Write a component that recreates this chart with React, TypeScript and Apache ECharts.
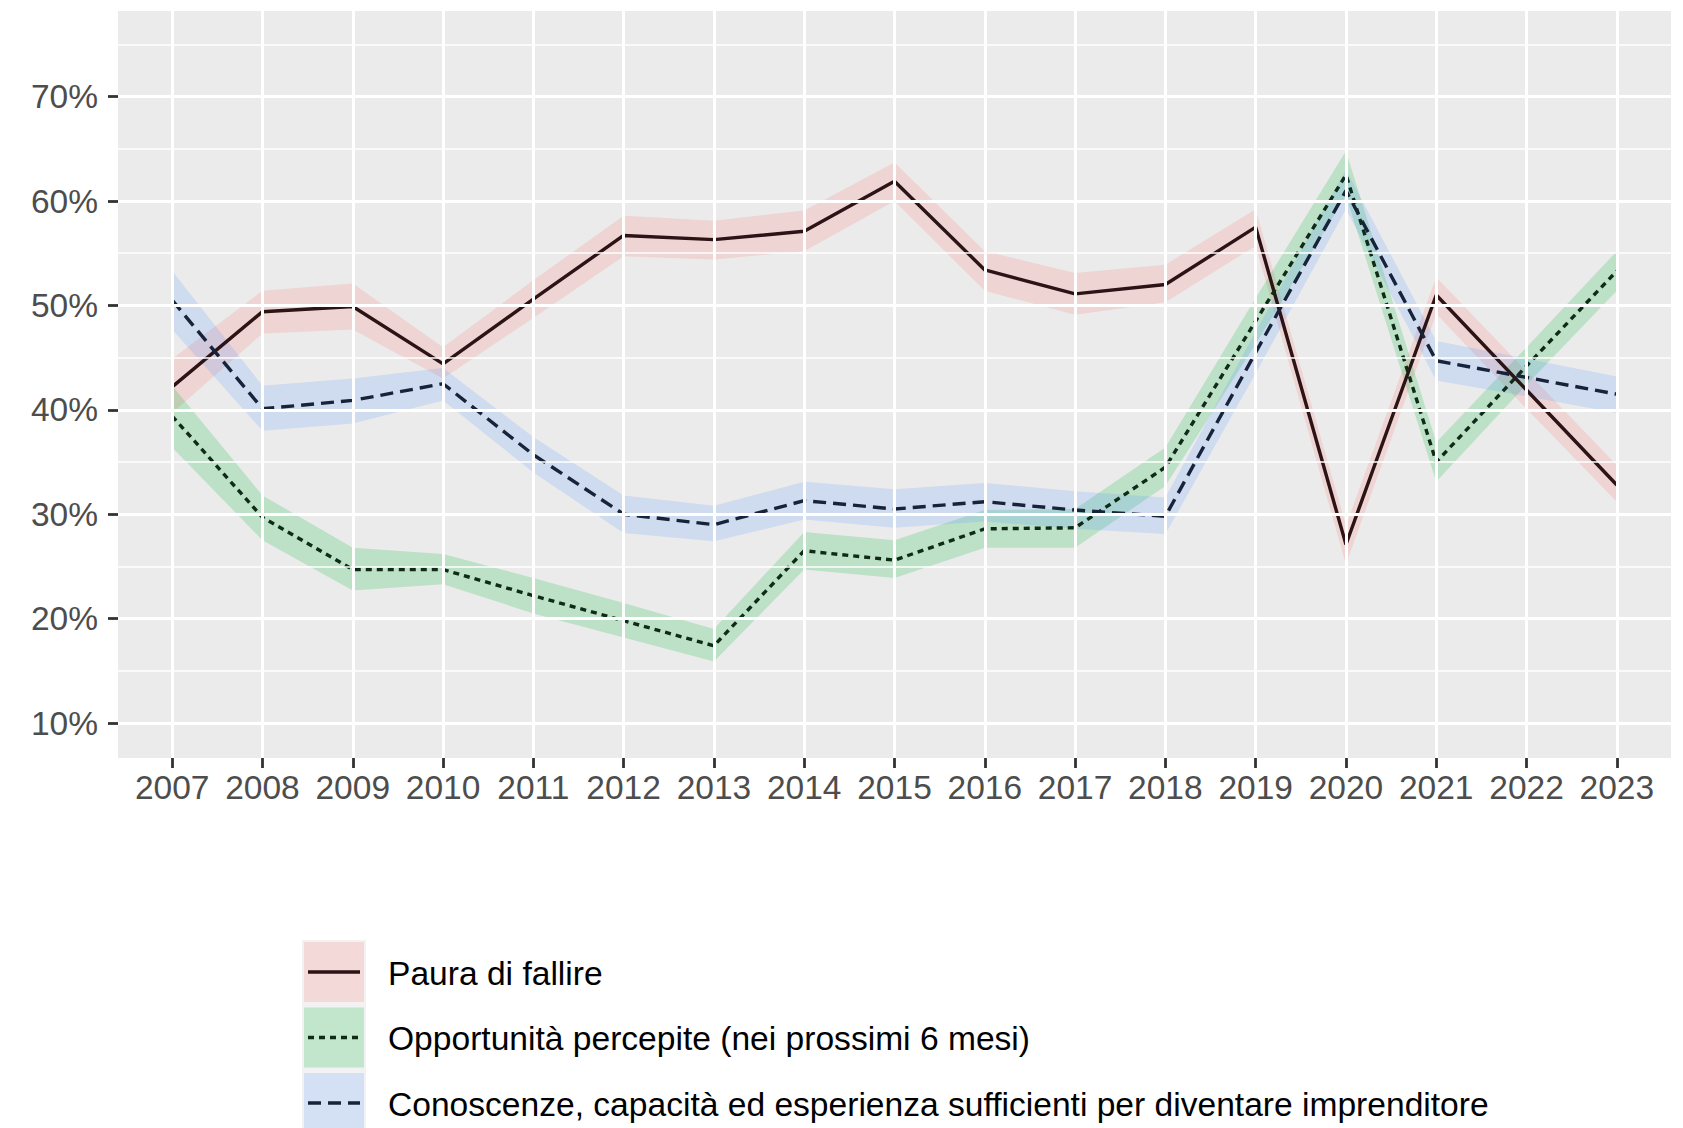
import * as echarts from 'echarts';
import { useEffect, useRef } from 'react';

// values (percent)
const years = [2007, 2008, 2009, 2010, 2011, 2012, 2013, 2014, 2015, 2016, 2017, 2018, 2019, 2020, 2021, 2022, 2023];

const seriesNames = [
  'Paura di fallire',
  'Opportunità percepite (nei prossimi 6 mesi)',
  'Conoscenze, capacità ed esperienza sufficienti per diventare imprenditore'
];

const paura = [42.2, 49.4, 49.9, 44.4, 50.6, 56.7, 56.3, 57.1, 61.9, 53.4, 51.1, 52.0, 57.5, 27.1, 51.0, 41.9, 32.8];
const pauraLow = [39.7, 47.3, 47.7, 43.0, 48.8, 54.7, 54.4, 55.2, 60.0, 51.4, 49.1, 50.3, 55.7, 25.2, 49.2, 40.1, 31.2];
const pauraHigh = [44.9, 51.4, 52.1, 46.0, 52.4, 58.6, 58.1, 59.1, 63.7, 55.2, 53.1, 53.9, 59.2, 28.9, 52.7, 43.7, 34.7];

const opport = [39.4, 29.7, 24.7, 24.7, 22.2, 19.8, 17.4, 26.5, 25.6, 28.6, 28.7, 34.5, 48.5, 62.5, 35.0, 44.2, 53.3];
const opportLow = [36.4, 27.5, 22.7, 23.3, 20.5, 18.2, 15.9, 24.7, 23.9, 26.8, 26.8, 32.7, 46.3, 60.5, 33.1, 42.4, 51.4];
const opportHigh = [42.3, 31.8, 26.8, 26.2, 23.9, 21.5, 19.0, 28.3, 27.5, 30.4, 30.5, 36.4, 50.7, 64.8, 36.9, 46.0, 55.2];

const conosc = [50.5, 40.1, 40.9, 42.5, 35.7, 30.0, 29.0, 31.3, 30.5, 31.2, 30.4, 29.8, 45.5, 61.0, 44.7, 43.1, 41.5];
const conoscLow = [47.7, 38.0, 38.7, 40.9, 34.0, 28.2, 27.4, 29.5, 28.7, 29.3, 28.6, 28.1, 43.5, 59.2, 42.8, 41.3, 39.7];
const conoscHigh = [53.3, 42.3, 43.0, 44.0, 37.4, 31.8, 30.8, 33.1, 32.4, 33.0, 32.2, 31.6, 47.5, 63.0, 46.6, 44.9, 43.2];

const yTicks = [10, 20, 30, 40, 50, 60, 70];
const yMinor = [15, 25, 35, 45, 55, 65, 75];

const FONT = '"Liberation Sans", Arial, sans-serif';
const fills = ['rgba(248,118,109,0.2)', 'rgba(0,186,56,0.2)', 'rgba(97,156,255,0.2)'];
const strokes = ['#2B1316', '#0F2A17', '#17233A'];
const dashes: (number[] | null)[] = [null, [6, 5], [13, 7]];

function pairs(vals: number[]) {
  return years.map((y, i) => [y, vals[i]]);
}

// confidence band as one polygon, drawn through the axes' scales
function ribbon(low: number[], high: number[], fill: string) {
  return {
    type: 'custom',
    data: years.map((y, i) => [y, low[i], high[i]]),
    encode: { x: 0, y: [1, 2] },
    silent: true,
    z: 2,
    renderItem: (params: any, api: any) => {
      if (params.dataIndex !== 0) return null;
      const top = years.map((y, i) => api.coord([y, high[i]]));
      const bottom = years.map((y, i) => api.coord([y, low[i]])).reverse();
      return {
        type: 'polygon',
        shape: { points: [...top, ...bottom] },
        style: { fill }
      };
    }
  };
}

function line(vals: number[], i: number) {
  return {
    type: 'line',
    name: seriesNames[i],
    data: pairs(vals),
    symbol: 'none',
    silent: true,
    lineStyle: { color: strokes[i], width: 3.4, type: dashes[i] ?? 'solid', cap: 'butt' },
    z: 3
  };
}

export default function App() {
  const elRef = useRef<HTMLDivElement | null>(null);

  useEffect(() => {
    if (!elRef.current) return;
    const chart = echarts.init(elRef.current, undefined, { renderer: 'svg' });

    const gridLine = (width: number, data: any[]) => ({
      type: 'line',
      data: [],
      silent: true,
      z: 1,
      markLine: {
        silent: true,
        symbol: 'none',
        label: { show: false },
        animation: false,
        lineStyle: { color: '#FFFFFF', type: 'solid', width },
        data
      }
    });

    // legend drawn by hand: ribbon key + line style
    const legend: any[] = [
      { type: 'rect', shape: { x: 302, y: 940, width: 64, height: 200 }, style: { fill: '#F2F2F2' }, silent: true }
    ];
    seriesNames.forEach((name, i) => {
      const top = 942 + i * 65.5;
      legend.push(
        { type: 'rect', shape: { x: 304, y: top, width: 60, height: 60 }, style: { fill: fills[i] }, silent: true },
        {
          type: 'line',
          shape: { x1: 308, y1: top + 30, x2: 360, y2: top + 30 },
          style: { stroke: strokes[i], lineWidth: 3.4, lineDash: dashes[i] ?? undefined },
          silent: true
        },
        {
          type: 'text',
          x: 388,
          y: top + 31,
          style: { text: name, fontSize: 33.6, fontFamily: FONT, fill: '#000000', verticalAlign: 'middle' },
          silent: true
        }
      );
    });

    chart.setOption({
      animation: false,
      grid: {
        left: 118,
        top: 11,
        width: 1553,
        height: 747,
        show: true,
        backgroundColor: '#EBEBEB',
        borderWidth: 0
      },
      xAxis: {
        type: 'value',
        min: 2006.4,
        max: 2023.6,
        splitLine: { show: false },
        axisLine: { show: false },
        axisTick: { customValues: years, length: 10, lineStyle: { color: '#333333', width: 2.8 } },
        axisLabel: {
          customValues: years,
          formatter: (v: number) => String(v),
          fontSize: 33.5,
          fontFamily: FONT,
          color: '#4D4D4D',
          margin: 12
        }
      },
      yAxis: {
        type: 'value',
        min: 6.65,
        max: 78.2,
        splitLine: { show: false },
        axisLine: { show: false },
        axisTick: { customValues: yTicks, length: 10, lineStyle: { color: '#333333', width: 2.8 } },
        axisLabel: {
          customValues: yTicks,
          formatter: (v: number) => `${v}%`,
          fontSize: 33.5,
          fontFamily: FONT,
          color: '#4D4D4D',
          margin: 20
        }
      },
      series: [
        gridLine(1.5, yMinor.map((v) => ({ yAxis: v }))),
        gridLine(3, [...yTicks.map((v) => ({ yAxis: v })), ...years.map((v) => ({ xAxis: v }))]),
        ribbon(pauraLow, pauraHigh, fills[0]),
        ribbon(opportLow, opportHigh, fills[1]),
        ribbon(conoscLow, conoscHigh, fills[2]),
        line(paura, 0),
        line(opport, 1),
        line(conosc, 2)
      ],
      graphic: legend
    });

    return () => chart.dispose();
  }, []);

  return <div ref={elRef} style={{ position: 'absolute', left: 0, top: 0, width: 1683, height: 1128 }} />;
}
